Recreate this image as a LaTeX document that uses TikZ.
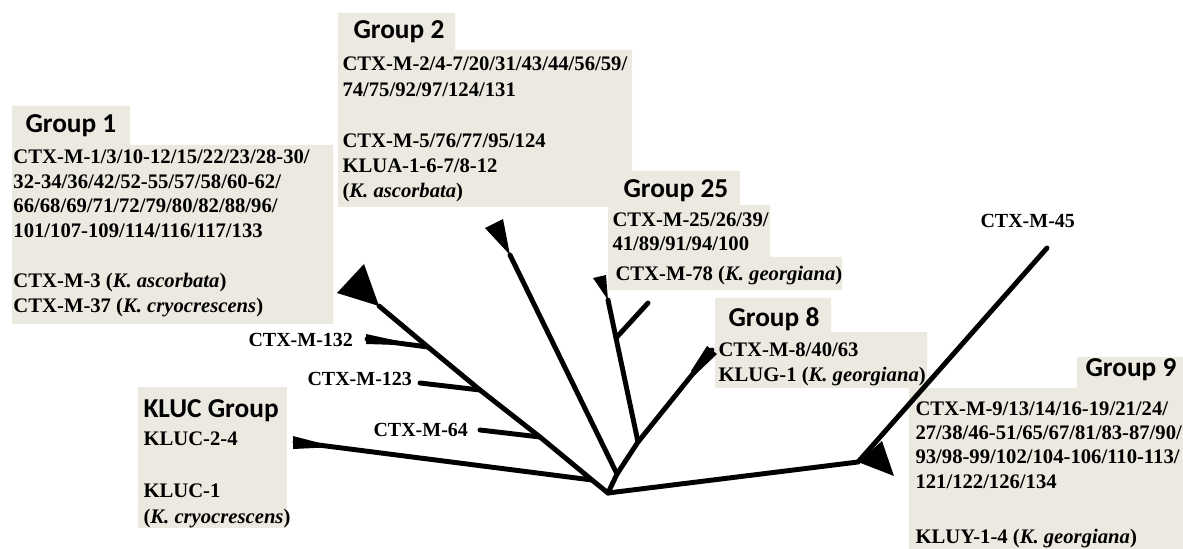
\documentclass[tikz,border=0pt]{standalone}
\usepackage{fontspec}
\setmainfont{Liberation Serif}
\newfontfamily\headfont{Carlito}
\definecolor{boxbeige}{RGB}{236,233,224}
\tikzset{every picture/.style={line width=0.75pt}}
\tikzset{
  branch/.style={line width=3.7pt, line cap=round},
  grouphead/.style={anchor=base west, inner sep=0pt, font=\headfont\bfseries\fontsize{20.5}{24}\selectfont},
  boxtext/.style={anchor=base west, inner sep=0pt, align=left, font=\bfseries\fontsize{15.5}{18.75}\selectfont},
  leaflabel/.style={anchor=base west, inner sep=0pt, font=\bfseries\fontsize{15}{18}\selectfont},
}
\begin{document}
\begin{tikzpicture}[x=0.75pt,y=0.75pt,yscale=-1,xscale=1]
\useasboundingbox (0,0) rectangle (1183,549);

%Shape: group backgrounds
\fill [boxbeige] (12,106) -- (130,106) -- (130,145) -- (333,145) -- (333,324) -- (12,324) -- cycle ;
\fill [boxbeige] (338,13) -- (455,13) -- (455,50) -- (632,50) -- (632,207) -- (338,207) -- cycle ;
\fill [boxbeige] (608,171) -- (740,171) -- (740,205) -- (770,205) -- (770,257) -- (842,257) -- (842,290) -- (608,290) -- cycle ;
\fill [boxbeige] (715,298) -- (831,298) -- (831,332) -- (927,332) -- (927,388) -- (715,388) -- cycle ;
\fill [boxbeige] (1077,357) -- (1183,357) -- (1183,549) -- (909,549) -- (909,388) -- (1077,388) -- cycle ;
\fill [boxbeige] (138,387) rectangle (287,528) ;

%Tree points
\coordinate (root) at (608,493);
\coordinate (ja) at (592,480);
\coordinate (jb) at (617,474);
\coordinate (jc) at (638,442);
\coordinate (jd) at (858,462);
\coordinate (j132) at (428,347);
\coordinate (j123) at (480,390);
\coordinate (j64) at (540,437);
\coordinate (j25) at (616,338);
\coordinate (g1tip) at (379,306);
\coordinate (g2tip) at (510,255);
\coordinate (g25tip) at (608,300);
\coordinate (g8tip) at (712,350);
\coordinate (klucTip) at (295,442);
\coordinate (l132) at (367,339);
\coordinate (l123) at (420,383);
\coordinate (l64) at (480,430);
\coordinate (l25) at (648,303);
\coordinate (l45) at (1047,248);

%Branches
\draw [branch] (root) -- (ja) -- (j64) -- (j123) -- (j132) -- (g1tip) ;
\draw [branch] (ja) -- (klucTip) ;
\draw [branch] (j132) -- (l132) ;
\draw [branch] (j123) -- (l123) ;
\draw [branch] (j64) -- (l64) ;
\draw [branch] (root) -- (jb) -- (g2tip) ;
\draw [branch] (jb) -- (jc) -- (j25) -- (g25tip) ;
\draw [branch] (j25) -- (l25) ;
\draw [branch] (jc) -- (g8tip) ;
\draw [branch] (root) -- (jd) -- (l45) ;

%Collapsed clades
\fill (g1tip) -- (337,293) -- (364,264) -- cycle ;
\fill (g2tip) -- (485,228) -- (503,219) -- cycle ;
\fill (g25tip) -- (593,278) -- (606,275) -- cycle ;
\fill (jd) -- (882,441) -- (894,476) -- cycle ;
\fill (293,436) -- (335,447) -- (293,449) -- cycle ;
\fill (707,346) -- (717,354) -- (695,375) -- (691,371) -- cycle ;
\fill (366,334) -- (398,341) -- (398,345) -- (366,344) -- cycle ;

% Text Node
\node [grouphead] (g1head) at (25,133) {Group 1};
% Text Node (anchored at last line)
\node [boxtext] (g1text) at (13,313) {CTX-M-1/3/10-12/15/22/23/28-30/\\32-34/36/42/52-55/57/58/60-62/\\66/68/69/71/72/79/80/82/88/96/\\101/107-109/114/116/117/133\\[18.75pt]CTX-M-3 (\textit{K. ascorbata})\\CTX-M-37 (\textit{K. cryocrescens})};
% Text Node
\node [grouphead] (g2head) at (353,39) {Group 2};
% Text Node
\node [boxtext, font=\bfseries\fontsize{15.5}{19.1}\selectfont] (g2text) at (342,198) {CTX-M-2/4-7/20/31/43/44/56/59/\\74/75/92/97/124/131\\[19.1pt]CTX-M-5/76/77/95/124\\KLUA-1-6-7/8-12\\(\textit{K. ascorbata})};
% Text Node
\node [grouphead] (g25head) at (623,198) {Group 25};
% Text Node
\node [boxtext, font=\bfseries\fontsize{15.5}{18}\selectfont] (g25text) at (612,251) {CTX-M-25/26/39/\\41/89/91/94/100};
% Text Node
\node [boxtext] (g25sp) at (615,281) {CTX-M-78 (\textit{K. georgiana})};
% Text Node
\node [grouphead] (g8head) at (728,327) {Group 8};
% Text Node
\node [boxtext] (g8text) at (718,382) {CTX-M-8/40/63\\KLUG-1 (\textit{K. georgiana})};
% Text Node
\node [grouphead] (g9head) at (1085,377) {Group 9};
% Text Node
\node [boxtext, font=\bfseries\fontsize{15.5}{18.2}\selectfont] (g9text) at (915,488) {CTX-M-9/13/14/16-19/21/24/\\27/38/46-51/65/67/81/83-87/90/\\93/98-99/102/104-106/110-113/\\121/122/126/134};
% Text Node
\node [boxtext] (g9sp) at (915,543) {KLUY-1-4 (\textit{K. georgiana})};
% Text Node
\node [grouphead] (klucHead) at (143,417) {KLUC Group};
% Text Node
\node [boxtext, font=\bfseries\fontsize{15.5}{19.5}\selectfont] (klucText) at (143,523) {KLUC-2-4\\[19.5pt]KLUC-1\\(\textit{K. cryocrescens})};
% Text Node
\node [leaflabel] (t132) at (248,346) {CTX-M-132};
% Text Node
\node [leaflabel] (t123) at (307,385) {CTX-M-123};
% Text Node
\node [leaflabel] (t64) at (373,436) {CTX-M-64};
% Text Node
\node [leaflabel] (t45) at (980,228) {CTX-M-45};

\end{tikzpicture}
\end{document}
